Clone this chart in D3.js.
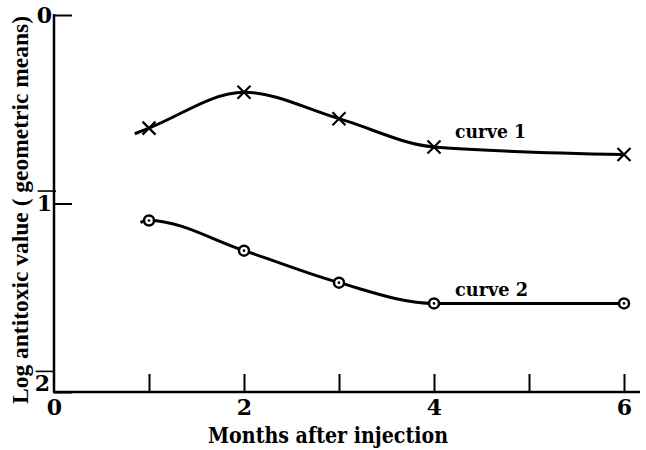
<!DOCTYPE html>
<html lang="en">
<head>
<meta charset="UTF-8">
<title>chart</title>
<script src="https://d3js.org/d3.v7.min.js"></script>
<style>
  body { margin: 0; background: #fff; }
  text { font-family: "DejaVu Serif", "Liberation Serif", serif; font-weight: bold; fill: #000; }
</style>
</head>
<body>
<svg width="646" height="450"></svg>
<script>
// data
const months = [1, 2, 3, 4, 6];
const curve1 = [-0.60, -0.41, -0.55, -0.70, -0.74];   // crosses
const curve2 = [-1.09, -1.25, -1.42, -1.53, -1.53];   // circles
// where each drawn curve starts, a little left of month 1
const lead1 = [0.85, -0.63];
const lead2 = [0.91, -1.10];
const xLabels = [0, 2, 4, 6];
const xTickMarks = [1, 2, 3, 4, 5, 6];
const yTicks = [0, -1, -2];

const svg = d3.select("svg");

const x = d3.scaleLinear().domain([0, 6]).range([54, 624]);
const y = d3.scaleLinear().domain([0, -2]).range([15, 392]);

// x axis line, runs a bit past 6
svg.append("line")
    .attr("x1", x(0) - 1).attr("x2", 640)
    .attr("y1", y(-2)).attr("y2", y(-2))
    .attr("stroke", "#000").attr("stroke-width", 2.5);

// y axis line
svg.append("line")
    .attr("x1", x(0)).attr("x2", x(0))
    .attr("y1", y(0) - 1).attr("y2", y(-2))
    .attr("stroke", "#000").attr("stroke-width", 2.5);

// upward tick marks at each month
const xt = svg.append("g")
    .attr("transform", "translate(0," + y(-2) + ")")
    .call(d3.axisTop(x).tickValues(xTickMarks).tickSize(18).tickFormat(""));
xt.select(".domain").remove();
xt.selectAll(".tick line").attr("stroke-width", 2);

// x tick labels
const xl = svg.append("g")
    .attr("transform", "translate(0," + y(-2) + ")")
    .call(d3.axisBottom(x).tickValues(xLabels).tickSize(0).tickPadding(7).tickFormat(d3.format("d")));
xl.select(".domain").remove();
xl.selectAll("text").attr("font-size", 22)
    .style("font-family", "DejaVu Serif").style("font-weight", "bold");

// y ticks (stubs pointing right) and labels with bar notation
const yl = svg.append("g")
    .attr("transform", "translate(" + x(0) + ",0)")
    .call(d3.axisLeft(y).tickValues(yTicks).tickSize(-18).tickPadding(2)
        .tickFormat(d => d === 0 ? "0" : String(-d)));
yl.select(".domain").remove();
yl.selectAll(".tick line").attr("stroke-width", 2);
yl.selectAll("text").attr("font-size", 22)
    .style("font-family", "DejaVu Serif").style("font-weight", "bold");
yl.selectAll(".tick").filter(d => d === -2).select("text").attr("dy", "-0.05em").attr("x", -4);

// bars over the negative characteristics
yl.selectAll(".tick").filter(d => d !== 0).each(function() {
    const t = d3.select(this).select("text");
    const b = t.node().getBBox();
    d3.select(this).append("line")
        .attr("x1", b.x + 1).attr("x2", b.x + b.width + 4)
        .attr("y1", b.y + 1).attr("y2", b.y + 1)
        .attr("stroke", "#000").attr("stroke-width", 1.6);
});

// curves
const line = d3.line()
    .x(d => x(d[0]))
    .y(d => y(d[1]))
    .curve(d3.curveMonotoneX);

const pts1 = months.map((m, i) => [m, curve1[i]]);
const pts2 = months.map((m, i) => [m, curve2[i]]);

svg.append("path")
    .datum([lead1].concat(pts1))
    .attr("d", line)
    .attr("fill", "none").attr("stroke", "#000").attr("stroke-width", 3);

svg.append("path")
    .datum([lead2].concat(pts2))
    .attr("d", line)
    .attr("fill", "none").attr("stroke", "#000").attr("stroke-width", 3);

// cross markers on curve 1
const s = 6.5;
svg.selectAll(".cross")
    .data(pts1)
    .join("path")
    .attr("class", "cross")
    .attr("d", d => {
        const cx = x(d[0]), cy = y(d[1]);
        return "M" + (cx - s) + "," + (cy - s) + "L" + (cx + s) + "," + (cy + s) +
               "M" + (cx - s) + "," + (cy + s) + "L" + (cx + s) + "," + (cy - s);
    })
    .attr("stroke", "#000").attr("stroke-width", 2.2).attr("fill", "none");

// circle markers on curve 2
svg.selectAll(".ring")
    .data(pts2)
    .join("circle")
    .attr("class", "ring")
    .attr("cx", d => x(d[0])).attr("cy", d => y(d[1]))
    .attr("r", 5)
    .attr("fill", "#fff").attr("stroke", "#000").attr("stroke-width", 2.5);
svg.selectAll(".dot")
    .data(pts2)
    .join("circle")
    .attr("class", "dot")
    .attr("cx", d => x(d[0])).attr("cy", d => y(d[1]))
    .attr("r", 1.3)
    .attr("fill", "#000");

// curve labels
svg.append("text")
    .attr("x", 455).attr("y", 138)
    .attr("font-size", 18)
    .attr("textLength", 71).attr("lengthAdjust", "spacingAndGlyphs")
    .text("curve 1");
svg.append("text")
    .attr("x", 455).attr("y", 296)
    .attr("font-size", 18)
    .attr("textLength", 73).attr("lengthAdjust", "spacingAndGlyphs")
    .text("curve 2");

// axis titles
svg.append("text")
    .attr("x", 328).attr("y", 443)
    .attr("text-anchor", "middle")
    .attr("font-size", 22)
    .attr("textLength", 240).attr("lengthAdjust", "spacingAndGlyphs")
    .text("Months after injection");

svg.append("text")
    .attr("transform", "translate(28,210) rotate(-90)")
    .attr("text-anchor", "middle")
    .attr("font-size", 22.5)
    .style("font-family", "Liberation Serif")
    .attr("textLength", 388).attr("lengthAdjust", "spacingAndGlyphs")
    .text("Log antitoxic value ( geometric means)");
</script>
</body>
</html>
